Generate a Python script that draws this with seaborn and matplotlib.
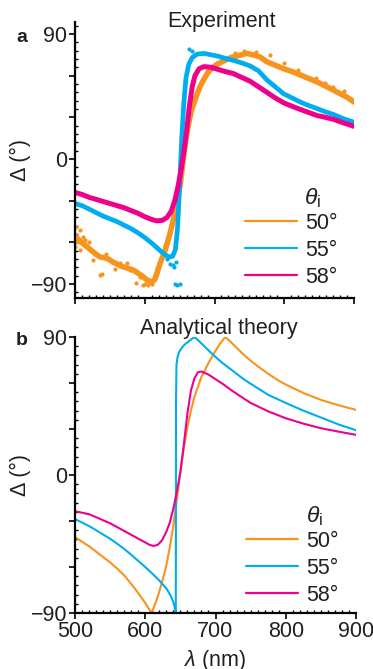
import numpy as np
import pandas as pd
import matplotlib
matplotlib.use("Agg")
import matplotlib.pyplot as plt
import seaborn as sns
from matplotlib.lines import Line2D
from matplotlib.ticker import MultipleLocator, FixedLocator, FuncFormatter

sns.set_theme(style="ticks")
plt.rcParams['font.family'] = ['Liberation Sans', 'DejaVu Sans']
plt.rcParams['mathtext.fontset'] = 'custom'
plt.rcParams['mathtext.rm'] = 'Liberation Sans'
plt.rcParams['mathtext.it'] = 'Liberation Sans:italic'

ORANGE = '#F7941D'
BLUE = '#00AEEF'
MAGENTA = '#EC008C'
TXT = '#231F20'
FS = 15.5

angles = ['50°', '55°', '58°']

# ---- panel a : experiment ----
lam_a_58 = [500, 510, 520, 530, 540, 550, 560, 570, 580, 590, 600, 610, 617, 625, 632, 638,
            643, 648, 652, 656, 660, 664, 668, 672, 678, 685, 695, 705, 715, 727, 740, 751,
            763, 775, 787, 799, 811, 823, 835, 847, 859, 871, 885, 900]
d_a_58 = [-24, -25.5, -27.5, -29, -30.5, -32, -33.5, -35, -37, -39, -41.5, -43.5, -44.5, -44.2,
          -42, -37.5, -30, -19, -8, 5, 20, 38, 52, 60, 65, 66.5, 66, 64.5, 63, 61.5, 58.5, 56,
          52, 48, 44, 40.5, 38, 35.7, 33.5, 31.3, 30, 28.5, 26, 23.5]

lam_a_55 = [500, 510, 520, 530, 540, 550, 560, 570, 580, 590, 600, 610, 620, 628, 635, 640,
            644, 647, 650, 653, 656, 659, 663, 668, 675, 685, 695, 705, 715, 727, 740, 751,
            763, 775, 787, 799, 811, 823, 835, 847, 859, 871, 885, 900]
d_a_55 = [-32, -33.5, -36, -38.5, -41, -43, -45, -47.5, -50, -53, -56.5, -60.5, -65, -68.5,
          -70.5, -70, -65, -50, -20, 15, 40, 58, 68, 73, 75.5, 76, 75, 74, 72.5, 71, 69, 67,
          63.5, 57, 52, 47, 44, 41, 38.5, 36.3, 34, 32, 29, 26.5]
lam_a_55_dots = [643.4, 646, 650.5, 636, 640, 645, 663, 668, 632, 642]
d_a_55_dots = [-90, -90.5, -90, -75.4, -76, -74, 79.4, 77.5, -72, -78]

lam_a_50 = [500, 505, 512, 518, 524, 530, 536, 542, 548, 554, 560, 566, 572, 578, 584, 590,
            596, 603, 610, 614, 617, 622, 629, 636, 643, 648, 651, 655, 660, 664, 667, 673,
            679, 685, 691, 697, 703, 709, 715, 721, 727, 735, 746, 755, 765, 775, 787, 799,
            811, 823, 835, 847, 859, 871, 880, 890, 900]
d_a_50 = [-55, -58, -61, -63.5, -66, -68.5, -70.5, -71, -72, -74, -75.5, -77, -78, -79, -80,
          -82, -84, -87, -88.5, -87, -83, -75, -66, -54, -39.4, -26, -17.8, -1, 18, 28, 35, 44,
          51.8, 57.5, 62.6, 65.5, 68, 69.5, 71, 72.5, 73.5, 74.5, 76, 75, 73.5, 70, 67.5, 65,
          63, 60.5, 58, 55.5, 52.5, 49.5, 47, 44.5, 41]
lam_a_50_dots = [502, 500, 507, 512, 507, 526, 536, 538, 550, 564, 579, 588, 593, 597, 605,
                 617, 515, 545, 742, 760, 800, 820, 845, 870, 885, 895, 730, 780, 503, 520,
                 558, 575, 600, 610, 830, 858, 878]
d_a_50_dots = [-48.7, -63, -51, -56, -65.8, -72.7, -83.5, -82.6, -72.7, -75, -80, -89, -84.7,
               -90.7, -90.7, -78.5, -58, -68, 78, 77, 69, 64, 58, 52, 49, 43, 76, 75, -60,
               -60, -79, -75, -90, -90, 59, 55, 48]

# ---- panel b : analytical theory ----
lam_b_50 = [500, 510, 520, 530, 540, 550, 560, 570, 580, 590, 600, 609, 615, 620, 625, 630,
            635, 640, 645, 650, 655, 660, 665, 670, 680, 690, 700, 707, 714, 720, 730, 740,
            750, 760, 775, 790, 800, 825, 850, 875, 900]
d_b_50 = [-40.4, -43.5, -46.5, -50, -53.5, -57, -61, -65.5, -71, -77, -83.5, -90, -83, -76,
          -68, -59, -47, -33, -16, 2, 18, 31, 42, 51, 64, 73, 81, 86, 90, 87.5, 83, 78.5, 74.5,
          71, 66, 61.5, 59, 53.5, 49, 45.5, 42.5]

lam_b_55 = [500, 510, 520, 530, 540, 550, 560, 570, 580, 590, 600, 610, 620, 630, 636, 640,
            642, 643.5, 643.8, 644.5, 646, 648, 652, 656, 660, 665, 670, 675, 680, 690, 700,
            710, 725, 740, 750, 775, 800, 825, 850, 875, 900]
d_b_55 = [-28.8, -31, -33.3, -36, -38.8, -41.6, -44.8, -48.2, -52, -56, -60, -64.3, -68.8,
          -74, -78.5, -83, -86.5, -90, 50, 72, 77, 80, 83, 85, 86.5, 88.3, 90, 88, 85.8, 81.3,
          77, 73, 67.8, 62.5, 59.5, 52.3, 47, 42, 37.5, 33, 29.2]

lam_b_58 = [500, 510, 520, 530, 540, 550, 560, 570, 580, 590, 600, 606, 612, 618, 624, 630,
            635, 640, 645, 650, 655, 660, 665, 670, 675, 680, 690, 700, 710, 725, 740, 750,
            775, 800, 825, 850, 875, 900]
d_b_58 = [-23.6, -24.6, -25.6, -27.5, -29.5, -31.5, -34, -36.5, -39, -41.5, -44, -45.5, -46.3,
          -45.5, -42.5, -37, -31, -22, -11, 2, 20, 40, 55, 63, 67, 67.5, 65.5, 62.5, 59.5, 54.5,
          50, 47, 41.5, 37, 33.5, 30.5, 28.3, 26.2]

fig = plt.figure(figsize=(3.73, 6.69), dpi=100)
ax_a = fig.add_axes([75 / 373, 1 - 298 / 669, 279 / 373, 276 / 669])
ax_b = fig.add_axes([75 / 373, 1 - 613 / 669, 281 / 373, 276 / 669])

# experiment
sns.scatterplot(x=lam_a_50_dots, y=d_a_50_dots, ax=ax_a, color=ORANGE, s=9, linewidth=0)
sns.lineplot(x=lam_a_50, y=d_a_50, ax=ax_a, color=ORANGE, lw=4.0)
sns.scatterplot(x=lam_a_55_dots, y=d_a_55_dots, ax=ax_a, color=BLUE, s=9, linewidth=0)
sns.lineplot(x=lam_a_55, y=d_a_55, ax=ax_a, color=BLUE, lw=3.4)
sns.lineplot(x=lam_a_58, y=d_a_58, ax=ax_a, color=MAGENTA, lw=3.6)

# theory
sns.lineplot(x=lam_b_50, y=d_b_50, ax=ax_b, color=ORANGE, lw=1.5, sort=False)
sns.lineplot(x=lam_b_55, y=d_b_55, ax=ax_b, color=BLUE, lw=1.5, sort=False)
sns.lineplot(x=lam_b_58, y=d_b_58, ax=ax_b, color=MAGENTA, lw=1.5, sort=False)

ax_a.set_ylim(-100, 98.6)
ax_b.set_ylim(-90, 90)


def ylab(v, pos):
    if v == 0:
        return '0'
    if abs(v) == 90:
        return '90' if v > 0 else '\u221290'
    return ''


for ax in (ax_a, ax_b):
    ax.set_xlim(500, 900)
    sns.despine(ax=ax)
    for s in ('left', 'bottom'):
        ax.spines[s].set_linewidth(1.6)
        ax.spines[s].set_color('black')
    ax.yaxis.set_major_locator(FixedLocator([-90, -60, -30, 0, 30, 60, 90]))
    ax.yaxis.set_major_formatter(FuncFormatter(ylab))
    ax.yaxis.set_minor_locator(MultipleLocator(6))
    ax.xaxis.set_major_locator(MultipleLocator(100))
    ax.xaxis.set_minor_locator(MultipleLocator(10))
    ax.tick_params(which='major', direction='out', length=4, width=1.2, color='black',
                   labelsize=FS, labelcolor=TXT, pad=1.5)
    ax.tick_params(which='minor', direction='in', length=2.5, width=1.0, color='black')
    ax.set_ylabel('Δ (°)', fontsize=FS, color=TXT)
    ax.yaxis.set_label_coords(-0.158, 0.5)
    ax.set_xlabel('')

ax_a.tick_params(axis='x', labelbottom=False)
ax_b.set_xlabel(r'$\lambda$ (nm)', fontsize=FS, color=TXT, va='top')
ax_b.xaxis.set_label_coords(0.5, -0.128)

handles = [Line2D([], [], color=c, lw=1.6) for c in (ORANGE, BLUE, MAGENTA)]
for ax, ytop, ytheta in ((ax_a, 0.308, 0.362), (ax_b, 0.297, 0.35)):
    ax.legend(handles, angles, loc='upper left', bbox_to_anchor=(0.609, ytop), frameon=False,
              fontsize=FS, handlelength=2.42, handletextpad=0.37, labelspacing=0.27,
              borderpad=0, borderaxespad=0, labelcolor=TXT)
    ax.text(0.822, ytheta, r'$\theta_\mathrm{i}$', transform=ax.transAxes, fontsize=FS + 1,
            ha='left', va='center', color=TXT)

fig.text(222 / 373, 1 - 27 / 669, 'Experiment', ha='center', va='baseline', fontsize=FS,
         color=TXT)
fig.text(219 / 373, 1 - 334 / 669, 'Analytical theory', ha='center', va='baseline',
         fontsize=FS, color=TXT)
fig.text(16 / 373, 1 - 42 / 669, 'a', fontweight='bold', fontsize=14, ha='left',
         va='baseline', color=TXT)
fig.text(16 / 373, 1 - 345 / 669, 'b', fontweight='bold', fontsize=14, ha='left',
         va='baseline', color=TXT)

fig.savefig('out.png', dpi=100)
